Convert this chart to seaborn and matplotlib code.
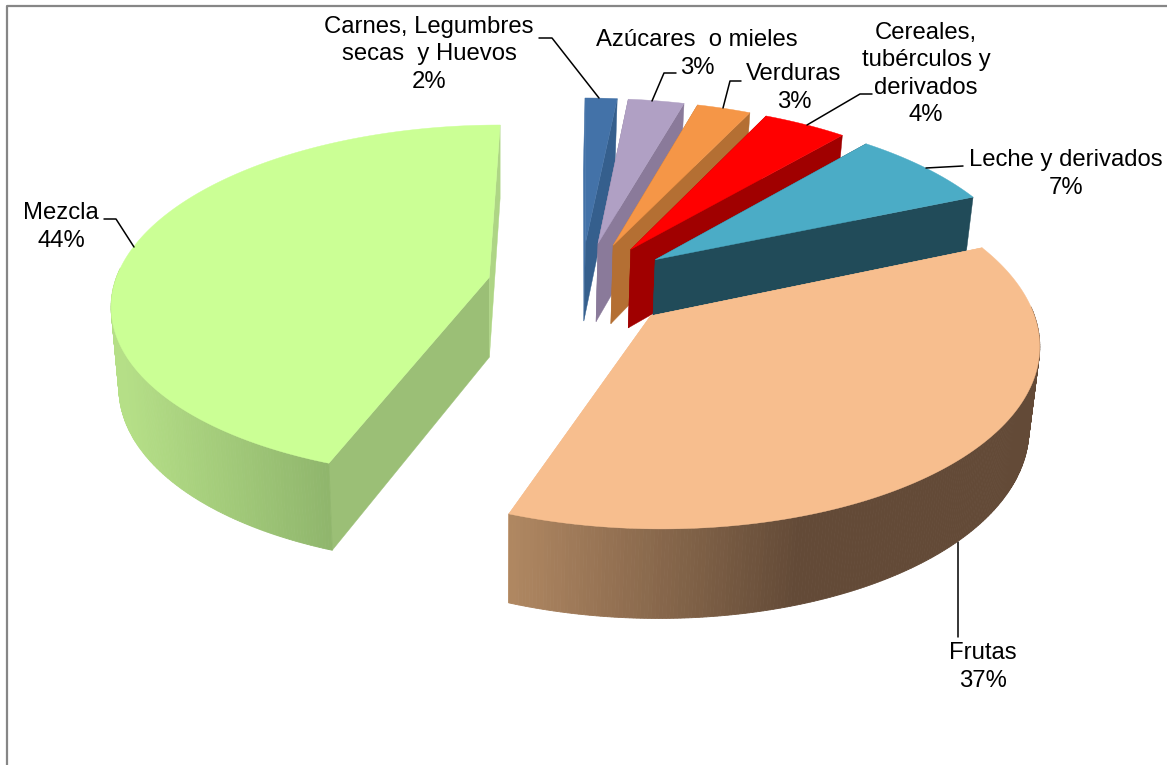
import numpy as np
import matplotlib
matplotlib.use("Agg")
import matplotlib.pyplot as plt
import seaborn as sns

# chart data, clockwise from 12 o'clock (labels show the rounded value)
categories = ["Carnes, Legumbres\nsecas  y Huevos", "Azúcares  o mieles", "Verduras",
              "Cereales,\ntubérculos y\nderivados", "Leche y derivados", "Frutas", "Mezcla"]
values = [1.6, 2.8, 2.7, 4.2, 7.3, 37.0, 44.4]

top_colors = ["#4372A8", "#B0A0C4", "#F59647", "#FF0000", "#4BACC6", "#F7BE8E", "#CBFF95"]
start_face = ["#4372A8", "#8A7A9A", "#B46F33", "#A00000", "#214B59", "#F7BE8E", "#9BBF76"]
end_face = ["#355F8D", "#8A7A9A", "#B46F33", "#A00000", "#214B59", "#F7BE8E", "#AED585"]
rim_light = ["#355F8D", "#8A7A9A", "#B46F33", "#A00000", "#214B59", "#B08862", "#B5DF87"]
rim_dark = ["#355F8D", "#8A7A9A", "#B46F33", "#A00000", "#214B59", "#634A37", "#8FB56C"]
rim_range = [(0, 1), (0, 1), (0, 1), (0, 1), (0, 1), (507, 800), (122, 331)]

# label centre and leader polyline, in pixels
label_pos = [(429, 54), (697, 54), (794, 88), (926, 74), (1066, 174), (983, 667), (61, 227)]
LINE_PITCH = 27.5
leaders = [
    [(539, 38), (552, 38), (599, 98)],
    [(676, 73), (664, 73), (652, 101)],
    [(741, 81), (730, 81), (723, 108)],
    [(872, 94), (860, 94), (807, 125)],
    [(963, 166), (926, 168)],
    [(958, 637), (958, 542)],
    [(104, 219), (116, 219), (134, 247)],
]

# projection of the exploded pie
CX, CY = 581, 285
RX, RY = 375, 175
PERSP = 0.1356
EXPLODE = 0.25
DEPTH = 80
VANISH_X, BOTTOM_SCALE = 500, 0.98


def project(gx, gy):
    s = 1 / (1 + PERSP * gy)
    return CX + RX * gx * s, CY - RY * gy * s, s


def lower(x, y, s):
    return VANISH_X + (x - VANISH_X) * BOTTOM_SCALE, y + DEPTH * s ** 0.65


sns.set_theme(style="white")
plt.rcParams["font.family"] = ["Liberation Sans", "DejaVu Sans"]

fig = plt.figure(figsize=(11.67, 7.65), dpi=100)
ax = fig.add_axes([0, 0, 1, 1])
ax.set_xlim(0, 1167)
ax.set_ylim(765, 0)
ax.axis("off")

# chart frame, only left and top fall inside the crop
ax.plot([6.5, 6.5, 1167], [765, 5.5, 5.5], color="#868686", lw=1.6)

edges = np.cumsum([0] + values) / sum(values) * 2 * np.pi
order = [0, 1, 2, 3, 4, 6, 5]  # back to front

for i in order:
    a0, a1 = edges[i], edges[i + 1]
    mid = (a0 + a1) / 2
    ox, oy = EXPLODE * np.sin(mid), EXPLODE * np.cos(mid)
    th = np.linspace(a0, a1, max(8, int((a1 - a0) * 120)))
    ax_x, ax_y, ax_s = project(ox, oy)
    rx, ry, rs = project(ox + np.sin(th), oy + np.cos(th))
    bx, by = lower(rx, ry, rs)
    abx, aby = lower(ax_x, ax_y, ax_s)

    # radial cut faces
    ax.fill([ax_x, rx[0], bx[0], abx], [ax_y, ry[0], by[0], aby], color=start_face[i], lw=0.3, zorder=2)
    ax.fill([ax_x, rx[-1], bx[-1], abx], [ax_y, ry[-1], by[-1], aby], color=end_face[i], lw=0.3, zorder=2)

    # outer rim as thin quads with a horizontal gradient, front half only
    pal = sns.blend_palette([rim_light[i], rim_dark[i]], n_colors=64)
    x0, x1 = rim_range[i]
    for j in range(len(th) - 1):
        if np.cos(th[j]) > 0.05:
            continue
        t = np.clip((rx[j] - x0) / (x1 - x0), 0, 1)
        c = pal[int(t * 63)]
        ax.fill([rx[j], rx[j + 1], bx[j + 1], bx[j]], [ry[j], ry[j + 1], by[j + 1], by[j]],
                color=c, lw=0.6, zorder=2)

    # top face
    ax.fill(np.r_[ax_x, rx], np.r_[ax_y, ry], color=top_colors[i], lw=0.3, zorder=2)

for name, val, (lx, ly), pts in zip(categories, values, label_pos, leaders):
    lines = f"{name}\n{val:.0f}%".split("\n")
    for n, line in enumerate(lines):
        ax.text(lx, ly + (n - (len(lines) - 1) / 2) * LINE_PITCH, line, ha="center", va="center",
                fontsize=17.2, color="black", zorder=5)
    px, py = zip(*pts)
    ax.plot(px, py, color="black", lw=1.1, zorder=1 if len(pts) == 2 and px[0] == px[1] else 4)

fig.savefig("out.png", dpi=100)
